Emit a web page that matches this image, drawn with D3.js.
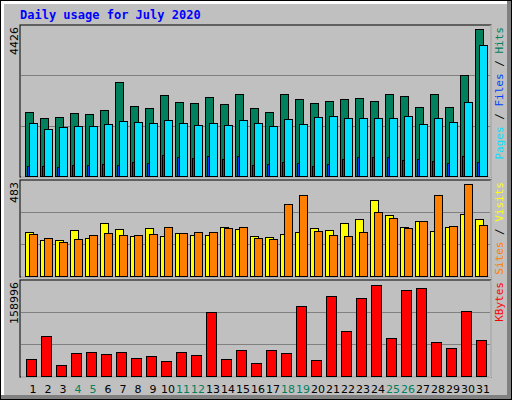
<!DOCTYPE html>
<html><head><meta charset="utf-8">
<script src="https://cdn.jsdelivr.net/npm/d3@7"></script>
<style>body{margin:0;background:#fff}svg{display:block}</style>
</head><body>
<script>
// daily figures
var days = d3.range(1, 32);
var weekend = [4, 5, 11, 12, 18, 19, 25, 26];
var hits = [1927,1746,1776,1896,1866,1987,2830,2107,2047,2438,2227,2197,2378,2167,2468,2047,1927,2468,2318,2197,2258,2318,2348,2258,2468,2408,2077,2468,2077,3040,4426];
var files = [1595,1415,1475,1505,1505,1565,1656,1625,1595,1686,1595,1535,1595,1535,1686,1595,1505,1716,1565,1776,1806,1746,1746,1746,1746,1806,1565,1746,1625,2227,3943];
var pages = [301,301,271,331,331,361,331,421,391,632,572,542,602,512,602,331,361,421,391,301,361,512,572,572,572,482,512,452,391,602,421];
var visits = [231,189,189,242,200,278,247,210,252,210,226,215,215,257,247,210,205,221,231,252,242,278,299,399,320,257,289,236,257,326,299];
var sites = [221,200,179,194,215,226,215,215,221,257,226,231,231,252,257,200,194,378,425,236,215,210,231,336,305,252,289,425,263,483,268];
var kbytes = [30130,70180,19680,40580,42320,38840,42320,31870,35350,26650,42320,37100,111980,30130,45800,23160,45800,40580,122430,28390,139840,78890,136360,158996,66700,150290,153770,59570,49290,113720,63220];

var svg = d3.select('body').append('svg').attr('width', 512).attr('height', 400);

// frame
svg.append('rect').attr('width', 512).attr('height', 400).attr('fill', '#000');
svg.append('rect').attr('x', 1).attr('y', 1).attr('width', 510).attr('height', 398).attr('fill', '#808080');
svg.append('rect').attr('x', 1).attr('y', 1).attr('width', 506).attr('height', 394).attr('fill', '#c0c0c0');
svg.append('rect').attr('x', 1).attr('y', 1).attr('width', 506).attr('height', 3).attr('fill', '#fff');
svg.append('rect').attr('x', 1).attr('y', 1).attr('width', 3).attr('height', 394).attr('fill', '#fff');

svg.append('text').attr('x', 20).attr('y', 19)
	.attr('font-family', 'DejaVu Sans Mono').attr('font-weight', 'bold').attr('font-size', 12)
	.attr('fill', '#0000ff').text('Daily usage for July 2020');

var x = d3.scaleBand().domain(days).range([20, 485]);

function panel(top, bottom, maxTop, max, series, label, legend) {
	svg.append('rect').attr('x', 20).attr('y', top).attr('width', 471).attr('height', bottom - top + 1)
		.attr('fill', '#c0c0c0').attr('stroke', '#000');
	svg.append('path').attr('d', 'M21,' + (bottom + 1) + 'H491V' + top).attr('stroke', '#fff').attr('fill', 'none');
	var y = d3.scaleLinear().domain([0, max]).range([bottom, maxTop]);
	var h = bottom - top;
	[1, 2].forEach(function(k) {
		svg.append('line').attr('x1', 21).attr('x2', 490)
			.attr('y1', bottom - Math.round(h * k / 3) + 0.5).attr('y2', bottom - Math.round(h * k / 3) + 0.5)
			.attr('stroke', '#808080');
	});
	series.forEach(function(s) {
		svg.append('g').selectAll('rect').data(s.data).enter().append('rect')
			.attr('x', (d, i) => x(days[i]) + s.off + 0.5)
			.attr('y', d => Math.round(y(d)) + 0.5)
			.attr('width', s.w)
			.attr('height', d => bottom - Math.round(y(d)))
			.attr('fill', s.color).attr('stroke', '#000');
	});
	svg.append('text').attr('transform', 'translate(18,' + (top + 2) + ') rotate(-90)')
		.attr('text-anchor', 'end').attr('font-family', 'DejaVu Sans').attr('font-size', 11)
		.text(label);
	var t = svg.append('text').attr('transform', 'translate(503,' + (top + 2) + ') rotate(-90)')
		.attr('text-anchor', 'end').attr('font-family', 'DejaVu Sans Mono').attr('font-size', 11);
	legend.forEach(function(l) { t.append('tspan').attr('fill', l[1]).text(l[0]); });
}

panel(25, 176, 29, 4426, [
	{data: hits, off: 5, w: 8, color: '#00805c'},
	{data: files, off: 9, w: 8, color: '#00e0ff'},
	{data: pages, off: 7, w: 2, color: '#0040ff'}
], '4426', [['Pages', '#00e0ff'], [' / ', '#000'], ['Files', '#0040ff'], [' / ', '#000'], ['Hits', '#00805c']]);

panel(180, 276, 184, 483, [
	{data: visits, off: 5, w: 8, color: '#ffff00'},
	{data: sites, off: 9, w: 8, color: '#ff8000'}
], '483', [['Sites', '#ff8000'], [' / ', '#000'], ['Visits', '#ffff00']]);

panel(280, 376, 285, 158996, [
	{data: kbytes, off: 6, w: 10, color: '#ff0000'}
], '158996', [['KBytes', '#ff0000']]);

svg.append('g').selectAll('text').data(days).enter().append('text')
	.attr('x', d => x(d) + 13).attr('y', 393).attr('text-anchor', 'middle')
	.attr('font-family', 'DejaVu Sans').attr('font-size', 11)
	.attr('fill', d => weekend.includes(d) ? '#00805c' : '#000')
	.text(d => d);
</script>
</body></html>
